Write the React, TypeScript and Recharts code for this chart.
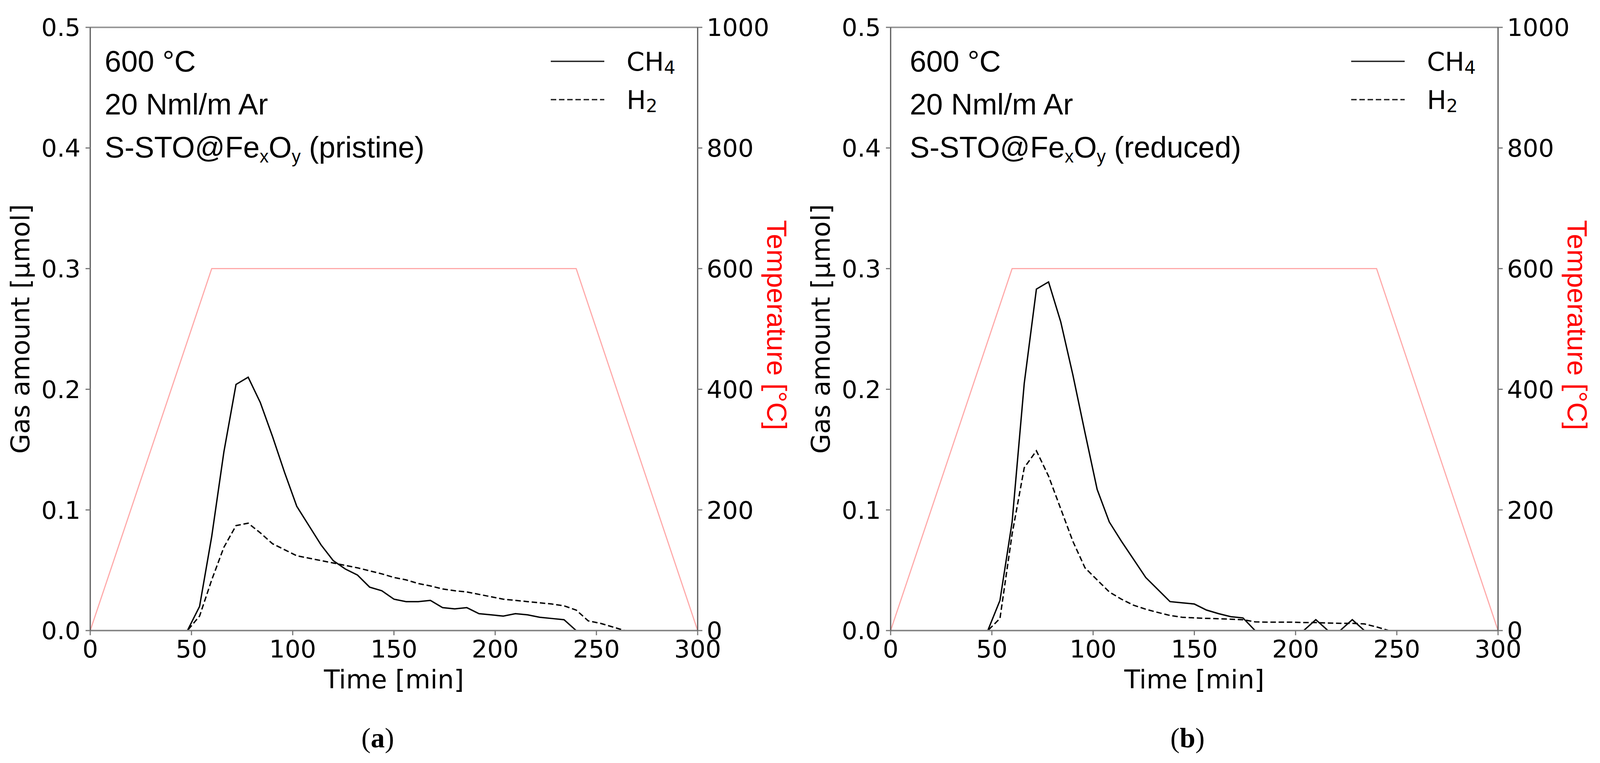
import React from "react"
import { Legend, Line, LineChart, ReferenceLine, XAxis, YAxis } from "recharts"

// sampling times [min]
const times = [
  0, 6, 12, 18, 24, 30, 36, 42, 48, 54, 60, 66, 72, 78, 84, 90, 96, 102, 108, 114, 120, 126, 132, 138, 144, 150,
  156, 162, 168, 174, 180, 186, 192, 198, 204, 210, 216, 222, 228, 234, 240, 246, 252, 258, 264, 270, 276, 282,
  288, 294, 300,
]

// (a) pristine, gas amount [µmol]
const ch4Pristine = [
  0, 0, 0, 0, 0, 0, 0, 0, 0, 0.02, 0.078, 0.148, 0.204, 0.21, 0.189, 0.161, 0.131, 0.103, 0.087, 0.071, 0.058,
  0.051, 0.046, 0.036, 0.033, 0.026, 0.024, 0.024, 0.025, 0.019, 0.018, 0.019, 0.014, 0.013, 0.012, 0.014, 0.013,
  0.011, 0.01, 0.009, 0, 0, 0, 0, 0, 0, 0, 0, 0, 0, 0,
]
const h2Pristine = [
  0, 0, 0, 0, 0, 0, 0, 0, 0, 0.012, 0.042, 0.069, 0.087, 0.089, 0.081, 0.072, 0.067, 0.062, 0.06, 0.058, 0.056,
  0.054, 0.052, 0.0495, 0.047, 0.044, 0.042, 0.039, 0.037, 0.0345, 0.033, 0.032, 0.03, 0.028, 0.026, 0.025, 0.024,
  0.023, 0.022, 0.0205, 0.017, 0.008, 0.006, 0.003, 0, 0, 0, 0, 0, 0, 0,
]

// (b) reduced, gas amount [µmol]
const ch4Reduced = [
  0, 0, 0, 0, 0, 0, 0, 0, 0, 0.025, 0.09, 0.205, 0.283, 0.289, 0.256, 0.212, 0.164, 0.117, 0.09, 0.074, 0.059,
  0.044, 0.034, 0.024, 0.023, 0.022, 0.017, 0.014, 0.0115, 0.0105, 0, 0, 0, 0, 0, 0.009, 0, 0, 0.009, 0, 0, 0, 0,
  0, 0, 0, 0, 0, 0, 0, 0,
]
const h2Reduced = [
  0, 0, 0, 0, 0, 0, 0, 0, 0, 0.01, 0.08, 0.135, 0.149, 0.128, 0.101, 0.074, 0.052, 0.042, 0.032, 0.026, 0.021,
  0.0177, 0.015, 0.0125, 0.011, 0.0105, 0.0101, 0.0098, 0.0094, 0.009, 0.0072, 0.007, 0.007, 0.007, 0.0066,
  0.0066, 0.0062, 0.006, 0.006, 0.0055, 0.003, 0, 0, 0, 0, 0, 0, 0, 0, 0, 0,
]

// temperature programme
const tempTimes = [0, 60, 240, 300]
const tempValues = [0, 600, 600, 0]

const timeTicks = [0, 50, 100, 150, 200, 250, 300]
const gasTicks = [0, 0.1, 0.2, 0.3, 0.4, 0.5]
const tempTicks = [0, 200, 400, 600, 800, 1000]

const conditionLines = ["600 °C", "20 Nml/m Ar"]

const W = 2050
const H = 1953
const PLOT_L = 231
const PLOT_R = 1786
const PLOT_T = 70
const PLOT_B = 1614

const SANS = "DejaVu Sans"
const ARIAL = "Liberation Sans, Arial, sans-serif"

const dashes: Record<string, string | undefined> = { ch4: undefined, h2: "14 7" }

const renderLegend = (props: any) => {
  const items = (props.payload || []).filter((p: any) => p.type !== "none" && p.dataKey !== "temp")
  return (
    <svg width={420} height={200}>
      {items.map((item: any, i: number) => {
        const y = 47 + i * 98
        const name = String(item.value)
        const main = name.slice(0, -1)
        const sub = name.slice(-1)
        return (
          <g key={name}>
            <line x1={20} x2={157} y1={y} y2={y} stroke="#222" strokeWidth={3.5} strokeDasharray={dashes[item.dataKey]} />
            <text x={214} y={y + 24} fontFamily={SANS} fontSize={66} fill="#000">
              {main}
              <tspan fontSize={46} dy={8}>
                {sub}
              </tspan>
            </text>
          </g>
        )
      })}
    </svg>
  )
}

type PanelProps = {
  left: number
  ch4: number[]
  h2: number[]
  sample: string
  letter: string
  annotX: number
  letterX: number
}

function Panel({ left, ch4, h2, sample, letter, annotX, letterX }: PanelProps) {
  const rows = times.map((t, i) => ({ t, ch4: ch4[i], h2: h2[i] }))
  const tempRows = tempTimes.map((t, i) => ({ t, temp: tempValues[i] }))
  const midY = (PLOT_T + PLOT_B) / 2

  return (
    <div style={{ position: "absolute", left, top: 0, width: W, height: H }}>
      <LineChart width={W} height={H} data={rows} margin={{ top: PLOT_T, right: 0, bottom: 0, left: 0 }}>
        <XAxis
          dataKey="t"
          type="number"
          domain={[0, 300]}
          ticks={timeTicks}
          interval={0}
          height={H - PLOT_B}
          tickSize={12}
          tickMargin={12}
          axisLine={{ stroke: "#888", strokeWidth: 4 }}
          tickLine={{ stroke: "#777", strokeWidth: 3 }}
          tick={{ fontSize: 63, fontFamily: SANS, fill: "#000" }}
        />
        <YAxis
          yAxisId="left"
          domain={[0, 0.5]}
          ticks={gasTicks}
          interval={0}
          width={PLOT_L}
          tickSize={12}
          tickMargin={13}
          tickFormatter={(v: number) => v.toFixed(1)}
          axisLine={{ stroke: "#555", strokeWidth: 3 }}
          tickLine={{ stroke: "#777", strokeWidth: 3 }}
          tick={{ fontSize: 63, fontFamily: SANS, fill: "#000" }}
        />
        <YAxis
          yAxisId="right"
          orientation="right"
          domain={[0, 1000]}
          ticks={tempTicks}
          interval={0}
          width={W - PLOT_R}
          tickSize={12}
          tickMargin={11}
          axisLine={{ stroke: "#555", strokeWidth: 3 }}
          tickLine={{ stroke: "#777", strokeWidth: 3 }}
          tick={{ fontSize: 63, fontFamily: SANS, fill: "#000" }}
        />
        <ReferenceLine yAxisId="left" y={0.5} stroke="#999" strokeWidth={4} />
        <Line
          yAxisId="right"
          data={tempRows}
          dataKey="temp"
          type="linear"
          stroke="#ffaaaa"
          strokeWidth={3}
          dot={false}
          legendType="none"
          isAnimationActive={false}
        />
        <Line
          yAxisId="left"
          dataKey="ch4"
          name="CH4"
          type="linear"
          stroke="#000"
          strokeWidth={3.5}
          dot={false}
          isAnimationActive={false}
        />
        <Line
          yAxisId="left"
          dataKey="h2"
          name="H2"
          type="linear"
          stroke="#000"
          strokeWidth={3.5}
          strokeDasharray={dashes.h2}
          dot={false}
          isAnimationActive={false}
        />
        <Legend
          layout="horizontal"
          verticalAlign="middle"
          align="center"
          content={renderLegend}
          wrapperStyle={{ left: 1390, top: 110, width: 420, height: 200 }}
        />
      </LineChart>

      <svg
        width={W}
        height={H}
        style={{ position: "absolute", left: 0, top: 0, pointerEvents: "none" }}
      >
        {conditionLines.map((s, i) => (
          <text key={s} x={annotX} y={183 + i * 110} fontFamily={ARIAL} fontSize={76} fill="#000">
            {s}
          </text>
        ))}
        <text x={annotX} y={403} fontFamily={ARIAL} fontSize={76} fill="#000" style={{ whiteSpace: "pre" }}>
          S-STO@Fe
          <tspan fontSize={46} dy={13}>x</tspan>
          <tspan dy={-13}>O</tspan>
          <tspan fontSize={46} dy={13}>y</tspan>
          <tspan dy={-13}>{` (${sample})`}</tspan>
        </text>

        <text
          x={75}
          y={midY}
          transform={`rotate(-90, 75, ${midY})`}
          textAnchor="middle"
          fontFamily={SANS}
          fontSize={66}
          fill="#000"
        >
          Gas amount [μmol]
        </text>
        <text
          x={PLOT_R + 178}
          y={midY - 10}
          transform={`rotate(90, ${PLOT_R + 178}, ${midY - 10})`}
          textAnchor="middle"
          fontFamily={ARIAL}
          fontSize={71}
          fill="#ff0000"
        >
          Temperature [°C]
        </text>
        <text x={(PLOT_L + PLOT_R) / 2} y={1762} textAnchor="middle" fontFamily={SANS} fontSize={66} fill="#000">
          Time [min]
        </text>
        <text x={letterX} y={1913} textAnchor="middle" fontFamily="Liberation Serif, serif" fontSize={72} fill="#000">
          (<tspan fontWeight="bold">{letter}</tspan>)
        </text>
      </svg>
    </div>
  )
}

export default function App() {
  return (
    <div style={{ position: "absolute", left: 0, top: 0, width: 4101, height: 1953, background: "#fff" }}>
      <Panel left={0} ch4={ch4Pristine} h2={h2Pristine} sample="pristine" letter="a" annotX={268} letterX={967} />
      <Panel left={2049} ch4={ch4Reduced} h2={h2Reduced} sample="reduced" letter="b" annotX={280} letterX={991} />
    </div>
  )
}
